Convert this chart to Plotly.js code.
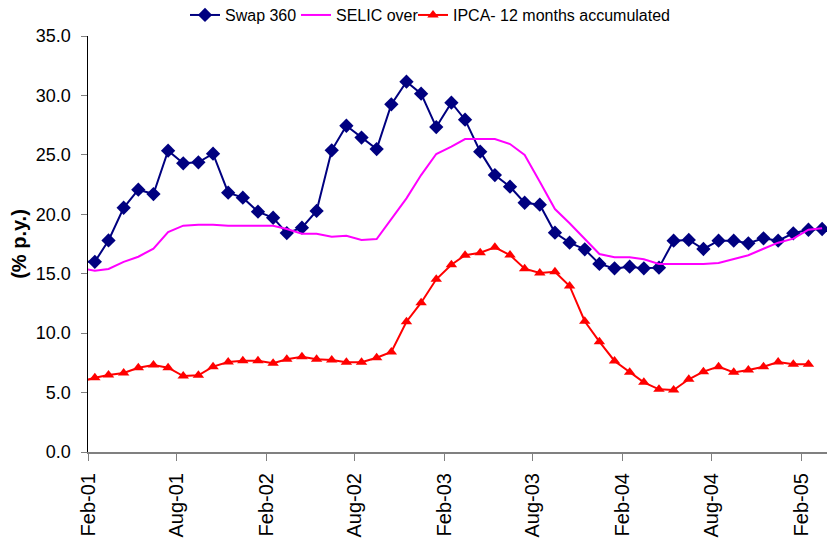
<!DOCTYPE html>
<html>
<head>
<meta charset="utf-8">
<script src="https://cdn.plot.ly/plotly-3.0.1.min.js"></script>
<style>
html,body{margin:0;padding:0;background:#fff;}
#chart{width:827px;height:538px;}
</style>
</head>
<body>
<div id="chart"></div>
<script>
// Months (values plotted at mid-month)
var months = [
 "2001-01","2001-02","2001-03","2001-04","2001-05","2001-06","2001-07","2001-08","2001-09","2001-10","2001-11","2001-12",
 "2002-01","2002-02","2002-03","2002-04","2002-05","2002-06","2002-07","2002-08","2002-09","2002-10","2002-11","2002-12",
 "2003-01","2003-02","2003-03","2003-04","2003-05","2003-06","2003-07","2003-08","2003-09","2003-10","2003-11","2003-12",
 "2004-01","2004-02","2004-03","2004-04","2004-05","2004-06","2004-07","2004-08","2004-09","2004-10","2004-11","2004-12",
 "2005-01","2005-02","2005-03"
];
var swap360 = [
 16.0,16.0,17.8,20.55,22.07,21.7,25.35,24.29,24.37,25.1,21.82,21.4,
 20.22,19.71,18.42,18.87,20.28,25.38,27.45,26.45,25.49,29.25,31.16,30.15,
 27.34,29.39,27.96,25.27,23.3,22.32,20.97,20.81,18.45,17.61,17.05,15.82,
 15.45,15.59,15.45,15.51,17.78,17.84,17.08,17.78,17.78,17.56,17.98,17.78,
 18.4,18.7,18.76
];
var selicOver = [
 15.5,15.25,15.4,16.0,16.43,17.1,18.5,19.04,19.12,19.12,19.04,19.04,
 19.04,19.04,18.76,18.37,18.37,18.12,18.2,17.84,17.92,19.6,21.34,23.3,
 25.07,25.69,26.33,26.33,26.33,25.91,24.99,22.74,20.44,19.24,17.9,16.66,
 16.38,16.38,16.21,15.82,15.82,15.82,15.82,15.9,16.21,16.55,17.1,17.61,
 17.95,18.7,18.82
];
var ipca12m = [
 5.9,6.25,6.48,6.65,7.09,7.32,7.09,6.39,6.45,7.18,7.57,7.68,
 7.68,7.46,7.8,8.02,7.8,7.74,7.55,7.55,7.93,8.41,10.96,12.56,
 14.53,15.76,16.55,16.77,17.22,16.57,15.42,15.06,15.17,13.97,11.0,9.28,
 7.66,6.7,5.86,5.27,5.22,6.12,6.76,7.18,6.7,6.9,7.18,7.57,
 7.38,7.38
];
var seriesNames = ["Swap 360","SELIC over","IPCA- 12 months accumulated"];
var tickDates = ["2001-02-01","2001-08-01","2002-02-01","2002-08-01","2003-02-01","2003-08-01","2004-02-01","2004-08-01","2005-02-01"];
var tickLabels = ["Feb-01","Aug-01","Feb-02","Aug-02","Feb-03","Aug-03","Feb-04","Aug-04","Feb-05"];
var yTicks = [0,5,10,15,20,25,30,35];

var xs = months.map(function(m){ return m + "-15"; });
var regular = "Liberation Sans, Arial, sans-serif";

var traces = [
 {x: xs.slice(0, swap360.length), y: swap360, name: seriesNames[0], type: "scatter", mode: "lines+markers",
  legend: "legend",
  line: {color: "#000080", width: 2}, marker: {symbol: "diamond", size: 11, color: "#000080"}, cliponaxis: false},
 {x: xs.slice(0, selicOver.length), y: selicOver, name: seriesNames[1], type: "scatter", mode: "lines",
  legend: "legend2",
  line: {color: "#FF00FF", width: 2}},
 {x: xs.slice(0, ipca12m.length), y: ipca12m, name: seriesNames[2], type: "scatter", mode: "lines+markers",
  legend: "legend3",
  line: {color: "#FF0000", width: 2}, marker: {symbol: "triangle-up", size: 10, color: "#FF0000"}, cliponaxis: false}
];

function leg(x){
 return {orientation: "h", xref: "container", yref: "container", x: x, xanchor: "left", y: 0.972, yanchor: "middle",
  font: {family: regular, size: 16, color: "#000"}, itemwidth: 30, bgcolor: "rgba(0,0,0,0)", borderwidth: 0};
}

var layout = {
 width: 827, height: 538,
 margin: {l: 88, r: 0, t: 36, b: 86},
 paper_bgcolor: "#fff", plot_bgcolor: "#fff",
 font: {family: regular, size: 18, color: "#000"},
 showlegend: true,
 legend: leg(185/827),
 legend2: leg(296/827),
 legend3: leg(413/827),
 xaxis: {
  type: "date", range: ["2001-02-01", "2005-03-25"],
  tickmode: "array", tickvals: tickDates, ticktext: tickLabels, tickangle: -90,
  ticks: "outside", ticklen: 7, tickcolor: "#808080", tickwidth: 1,
  showline: true, linecolor: "#808080", linewidth: 2, showgrid: false, zeroline: false,
  tickfont: {family: regular, size: 20, color: "#000"}, ticklabelstandoff: 4
 },
 yaxis: {
  range: [0, 35], tickmode: "array", tickvals: yTicks, tickformat: ".1f",
  ticks: "outside", ticklen: 6, tickcolor: "#808080", tickwidth: 1,
  showline: true, linecolor: "#000", linewidth: 1.5, showgrid: false, zeroline: false,
  tickfont: {family: regular, size: 18, color: "#000"}, ticklabelstandoff: 6,
  title: {text: "<b>(% p.y.)</b>", font: {family: regular, size: 20, color: "#000"}, standoff: 4}
 },
 hovermode: false
};

Plotly.newPlot("chart", traces, layout, {displayModeBar: false, staticPlot: true});
</script>
</body>
</html>
